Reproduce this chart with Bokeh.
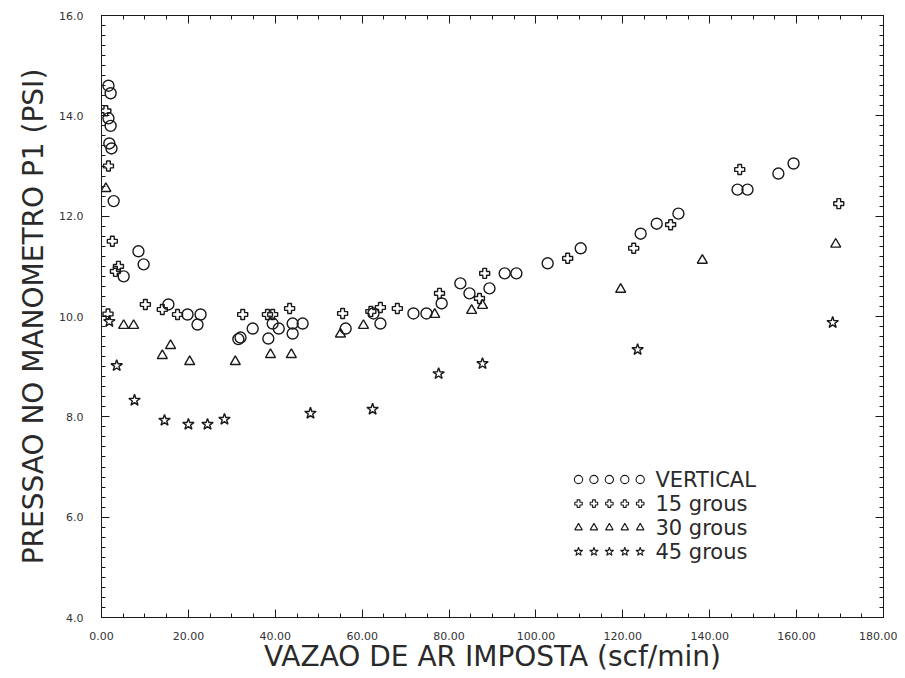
from bokeh.plotting import figure
from bokeh.models import (Range1d, LinearAxis, SingleIntervalTicker, NumeralTickFormatter,
                          CustomJSTickFormatter)
from bokeh.embed import file_html
from bokeh.resources import INLINE
from bokeh.core.properties import value

# ---- data ----
vert_x = [1.6, 2.1, 1.6, 2.1, 1.8, 2.3, 2.8, 5.1, 8.5, 9.7, 15.4, 19.8, 22.8, 22.1,
          31.5, 32.0, 34.8, 38.4, 39.4, 40.8, 44.0, 46.3, 44.0, 56.2, 62.6, 64.2,
          71.8, 74.8, 78.3, 82.6, 84.7, 89.3, 92.8, 95.5, 102.7, 110.3, 124.1,
          127.8, 132.8, 146.4, 148.7, 155.8, 159.3]
vert_y = [14.6, 14.45, 13.95, 13.8, 13.45, 13.35, 12.3, 10.8, 11.3, 11.04, 10.24,
          10.04, 10.04, 9.84, 9.55, 9.58, 9.76, 9.56, 9.86, 9.76, 9.86, 9.86, 9.66,
          9.76, 10.06, 9.86, 10.06, 10.06, 10.26, 10.66, 10.46, 10.56, 10.86, 10.86,
          11.06, 11.36, 11.65, 11.85, 12.05, 12.53, 12.53, 12.85, 13.05]

g15_x = [1.0, 1.6, 2.5, 3.9, 3.2, 10.1, 14.0, 17.5, 1.5, 32.5, 38.2, 39.4, 43.3,
         55.5, 62.0, 64.2, 68.1, 77.8, 87.0, 88.2, 107.3, 122.5, 131.0, 146.9, 169.7]
g15_y = [14.1, 13.0, 11.5, 11.0, 10.9, 10.24, 10.14, 10.04, 10.05, 10.04, 10.04,
         10.04, 10.16, 10.06, 10.1, 10.18, 10.16, 10.46, 10.36, 10.86, 11.16, 11.36,
         11.83, 12.93, 12.25]

g30_x = [1.0, 5.1, 7.4, 14.0, 15.9, 20.3, 30.8, 38.9, 43.7, 55.0, 60.3, 76.7, 85.2,
         87.7, 119.5, 138.3, 169.0]
g30_y = [12.55, 9.82, 9.82, 9.22, 9.42, 9.1, 9.1, 9.24, 9.24, 9.65, 9.82, 10.04,
         10.12, 10.22, 10.54, 11.12, 11.44]

g45_x = [1.8, 3.5, 7.6, 14.5, 20.0, 24.4, 28.3, 48.1, 62.4, 77.6, 87.7, 123.4, 168.3]
g45_y = [9.9, 9.02, 8.33, 7.93, 7.85, 7.85, 7.95, 8.07, 8.15, 8.86, 9.06, 9.34, 9.88]

series_labels = ["VERTICAL", "15 grous", "30 grous", "45 grous"]
series_markers = ["circle", "plus", "triangle", "star"]

x_label = "VAZAO DE AR IMPOSTA (scf/min)"
y_label = "PRESSAO NO MANOMETRO P1 (PSI)"

FONT = "DejaVu Sans"
INK = "#1a1a1a"
TEXT = "#2a2a2a"

p = figure(width=897, height=678, x_range=Range1d(0, 180), y_range=Range1d(4, 16),
           output_backend="svg", toolbar_location=None,
           min_border_left=101, min_border_right=14, min_border_top=15,
           min_border_bottom=61, background_fill_color="white",
           border_fill_color="white")
p.grid.visible = False
p.outline_line_color = INK
p.outline_line_width = 1

def style_axis(ax, labels=True):
    ax.axis_line_color = INK
    ax.major_tick_in = 8
    ax.major_tick_out = 0
    ax.minor_tick_in = 4
    ax.minor_tick_out = 0
    ax.major_tick_line_color = INK
    ax.minor_tick_line_color = INK
    ax.major_label_text_font = FONT
    ax.major_label_text_font_size = "11px"
    ax.major_label_text_color = "#333333"
    if not labels:
        ax.formatter = CustomJSTickFormatter(code="return ''")
        ax.major_label_standoff = 0

p.xaxis.ticker = SingleIntervalTicker(interval=20, num_minor_ticks=4)
p.yaxis.ticker = SingleIntervalTicker(interval=2, num_minor_ticks=10)
p.xaxis.formatter = NumeralTickFormatter(format="0.00")
p.yaxis.formatter = NumeralTickFormatter(format="0.0")
style_axis(p.xaxis[0])
style_axis(p.yaxis[0])
p.xaxis.major_label_standoff = 14
p.yaxis.major_label_standoff = 18
p.xaxis.axis_label = x_label
p.yaxis.axis_label = y_label
for ax in (p.xaxis[0], p.yaxis[0]):
    ax.axis_label_text_font = FONT
    ax.axis_label_text_font_style = "normal"
    ax.axis_label_text_color = TEXT
    ax.axis_label_text_font_size = "28px"
p.xaxis.axis_label_standoff = -3
p.yaxis.axis_label_standoff = 6

top = LinearAxis(ticker=SingleIntervalTicker(interval=20, num_minor_ticks=4))
right = LinearAxis(ticker=SingleIntervalTicker(interval=2, num_minor_ticks=10))
style_axis(top, labels=False)
style_axis(right, labels=False)
p.add_layout(top, "above")
p.add_layout(right, "right")

sizes = {"circle": 11, "plus": 10, "triangle": 10, "star": 12}
data = [(vert_x, vert_y), (g15_x, g15_y), (g30_x, g30_y), (g45_x, g45_y)]
for (xs, ys), mk in zip(data, series_markers):
    p.scatter(xs, ys, marker=mk, size=sizes[mk], fill_color=None,
              line_color=INK, line_width=1.4)

# ---- legend drawn as in the original (five symbols per row) ----
leg_x0, leg_dx, leg_y0, leg_dy = 109.8, 3.55, 6.75, 0.48
text_x = 127.5
for i, (lab, mk) in enumerate(zip(series_labels, series_markers)):
    yy = leg_y0 - i * leg_dy
    p.scatter([leg_x0 + k * leg_dx for k in range(5)], [yy] * 5, marker=mk,
              size=sizes[mk] * 0.75, fill_color=None, line_color=INK, line_width=1.1)
    p.text([text_x], [yy], text=[lab], text_font=value(FONT), text_font_size="21px",
           text_baseline="middle", text_align="left", text_color=TEXT)

open("out.html", "w").write(file_html(p, INLINE))
